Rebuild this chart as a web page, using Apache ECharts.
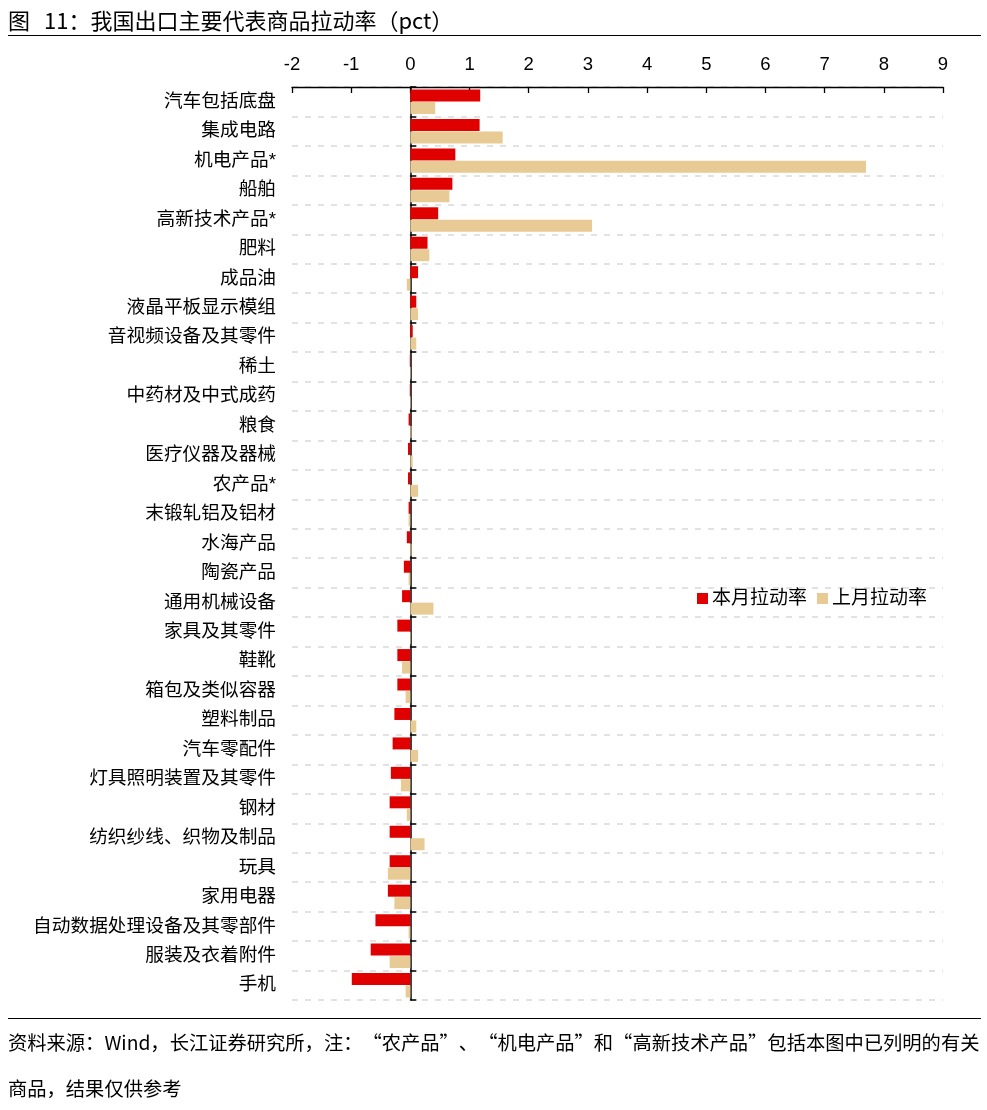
<!DOCTYPE html>
<html>
<head>
<meta charset="utf-8">
<script src="https://cdn.jsdelivr.net/npm/echarts@6/dist/echarts.min.js"></script>
<style>
html,body{margin:0;padding:0;background:#fff;}
#main{width:987px;height:1110px;}
</style>
</head>
<body>
<div id="main"></div>
<script>
var categories = ['汽车包括底盘','集成电路','机电产品*','船舶','高新技术产品*','肥料','成品油','液晶平板显示模组','音视频设备及其零件','稀土','中药材及中式成药','粮食','医疗仪器及器械','农产品*','末锻轧铝及铝材','水海产品','陶瓷产品','通用机械设备','家具及其零件','鞋靴','箱包及类似容器','塑料制品','汽车零配件','灯具照明装置及其零件','钢材','纺织纱线、织物及制品','玩具','家用电器','自动数据处理设备及其零部件','服装及衣着附件','手机'];
var thisMonth = [1.18,1.17,0.76,0.71,0.47,0.29,0.13,0.10,0.04,-0.01,-0.01,-0.03,-0.04,-0.04,-0.03,-0.06,-0.11,-0.14,-0.22,-0.22,-0.22,-0.27,-0.30,-0.33,-0.35,-0.35,-0.35,-0.38,-0.59,-0.67,-0.99];
var lastMonth = [0.42,1.56,7.70,0.66,3.07,0.32,-0.06,0.13,0.10,0.01,0.01,0.02,0.04,0.13,-0.03,0.02,-0.03,0.39,0.01,-0.14,-0.08,0.10,0.13,-0.16,-0.06,0.24,-0.38,-0.27,-0.03,-0.35,-0.08];
var xTicks = {min: -2, max: 9, interval: 1};
var seriesNames = ['本月拉动率','上月拉动率'];
var titleLabel = '图';
var titleText = '11：我国出口主要代表商品拉动率（pct）';
var footer1 = '资料来源：Wind，长江证券研究所，注：“农产品”、“机电产品”和“高新技术产品”包括本图中已列明的有关';
var footer2 = '商品，结果仅供参考';

var FONT = '"Liberation Sans", Arial, "Noto Sans CJK SC", sans-serif';
var CJKFONT = '"Noto Sans CJK SC", "Liberation Sans", sans-serif';
var chart = echarts.init(document.getElementById('main'), null, {renderer: 'canvas'});
chart.setOption({
  animation: false,
  backgroundColor: '#fff',
  textStyle: {fontFamily: FONT, color: '#000'},
  grid: {left: 292, right: 44, top: 87, bottom: 110, containLabel: false},
  legend: {
    data: seriesNames,
    left: 692, top: 584,
    itemWidth: 11, itemHeight: 11, itemGap: 10,
    icon: 'rect',
    textStyle: {fontSize: 19, color: '#000', fontFamily: FONT, padding: [0,0,0,-1]}
  },
  xAxis: {
    type: 'value', position: 'top',
    min: xTicks.min, max: xTicks.max, interval: xTicks.interval,
    axisLine: {show: true, onZero: false, lineStyle: {color: '#000', width: 1.3}},
    axisTick: {show: true, inside: true, length: 6, lineStyle: {color: '#000', width: 1.3}},
    axisLabel: {fontSize: 18.5, color: '#000', margin: 13, fontFamily: FONT},
    splitLine: {show: false}
  },
  yAxis: [{
    type: 'category', data: categories, inverse: true,
    axisLine: {show: false},
    axisTick: {show: false},
    axisLabel: {fontSize: 18.7, color: '#000', margin: 16, fontFamily: FONT, padding: [3,0,0,0]},
    splitLine: {show: true, lineStyle: {color: '#d9d9d9', width: 1.5, type: [6, 7]}}
  }, {
    type: 'category', data: categories, inverse: true, position: 'left',
    axisLine: {show: true, onZero: true, onZeroAxisIndex: 0, lineStyle: {color: '#000', width: 1.5}},
    axisTick: {show: true, inside: true, length: 6, lineStyle: {color: '#000', width: 1.5}},
    axisLabel: {show: false},
    splitLine: {show: false}
  }],
  series: [{
    name: seriesNames[0], type: 'bar', data: thisMonth, yAxisIndex: 0,
    barWidth: 12, barGap: '4%',
    itemStyle: {color: '#E00000'}
  }, {
    name: seriesNames[1], type: 'bar', data: lastMonth, yAxisIndex: 0,
    barWidth: 12, barGap: '4%',
    itemStyle: {color: '#E8CA94'}
  }],
  graphic: [
    {type: 'text', left: 8, top: 10, style: {
      text: '{a|' + titleLabel + '}{b|' + titleText + '}',
      fontSize: 22, fontFamily: CJKFONT, fill: '#000',
      rich: {a: {fontSize: 22, fontFamily: CJKFONT, padding: [0, 14, 0, 0]}, b: {fontSize: 22, fontFamily: CJKFONT}}
    }},
    {type: 'line', shape: {x1: 8, y1: 35.5, x2: 981, y2: 35.5}, style: {stroke: '#000', lineWidth: 1.2}},
    {type: 'line', shape: {x1: 8, y1: 1018.5, x2: 981, y2: 1018.5}, style: {stroke: '#000', lineWidth: 1.2}},
    {type: 'text', left: 8, top: 1033, style: {text: footer1, fontSize: 19.3, fontFamily: CJKFONT, fill: '#000'}},
    {type: 'text', left: 8, top: 1079, style: {text: footer2, fontSize: 19.3, fontFamily: CJKFONT, fill: '#000'}}
  ]
});
</script>
</body>
</html>
